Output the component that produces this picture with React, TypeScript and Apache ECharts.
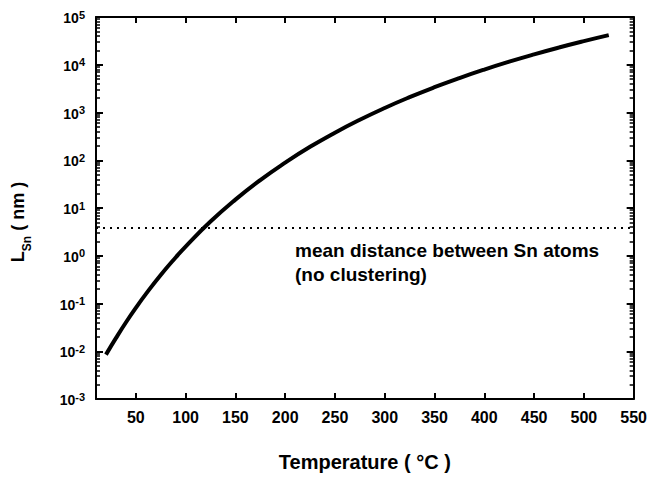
import React, { useEffect, useRef } from "react";
import * as echarts from "echarts";

// Curve: temperature (°C) vs L_Sn (nm)
const temperatureC = [20, 30, 40, 50, 60, 75, 90, 100, 125, 150, 175, 200, 225, 250, 275, 300, 325, 350, 375, 400, 425, 450, 475, 500, 525];
const lengthNm = [0.0085, 0.0188, 0.04, 0.081, 0.157, 0.395, 0.92, 1.56, 5.2, 15.0, 38.5, 89, 191, 378, 705, 1245, 2094, 3381, 5260, 7925, 11590, 16500, 22960, 31260, 41780];

// Horizontal reference: mean distance between Sn atoms
const meanDistanceNm = 3.9;

const xTickValues = [50, 100, 150, 200, 250, 300, 350, 400, 450, 500, 550];
const xTopTickValues = [50, 100, 150, 200, 250, 300, 350, 400, 450, 500];
const yDecades = [1e-3, 1e-2, 1e-1, 1e0, 1e1, 1e2, 1e3, 1e4, 1e5];
const minorMultipliers = [2, 3, 4, 5, 6, 7, 8, 9];
const yMinorValues = yDecades.slice(0, -1).flatMap((d) => minorMultipliers.map((m) => d * m));

const annotationLines = ["mean distance between Sn atoms", "(no clustering)"];

const FONT = "Liberation Sans, Arial, Helvetica, sans-serif";

export default function App() {
  const ref = useRef<HTMLDivElement>(null);

  useEffect(() => {
    const chart = echarts.init(ref.current!, null, { renderer: "svg" });
    const black = "#000";
    const axisLine = { show: true, lineStyle: { color: black, width: 2 } };

    const yLog = { type: "log" as const, logBase: 10, min: 1e-3, max: 1e5 };

    chart.setOption({
      animation: false,
      backgroundColor: "#fff",
      grid: { left: 96, right: 12, top: 17, bottom: 76, containLabel: false },
      xAxis: [
        {
          type: "value",
          position: "bottom",
          min: 10,
          max: 550,
          axisLine,
          axisTick: { show: true, inside: true, length: 6, lineStyle: { color: black, width: 2 }, customValues: xTickValues },
          axisLabel: { customValues: xTickValues, color: black, fontSize: 16, fontWeight: "bold", fontFamily: FONT, margin: 10 },
          splitLine: { show: false },
          name: "Temperature ( °C )",
          nameLocation: "middle",
          nameGap: 53,
          nameTextStyle: { color: black, fontSize: 20, fontWeight: "bold", fontFamily: FONT },
        },
        {
          type: "value",
          position: "top",
          min: 10,
          max: 550,
          axisLine,
          axisTick: { show: true, inside: true, length: 6, lineStyle: { color: black, width: 2 }, customValues: xTopTickValues },
          axisLabel: { show: false },
          splitLine: { show: false },
        },
      ],
      yAxis: [
        {
          ...yLog,
          position: "left",
          axisLine,
          axisTick: { show: true, inside: true, length: 7, lineStyle: { color: black, width: 2 }, customValues: yDecades },
          axisLabel: {
            customValues: yDecades,
            margin: 11,
            formatter: (v: number) => `{b|10}{s|${Math.round(Math.log10(v))}}`,
            rich: {
              b: { fontSize: 14, fontWeight: "bold", color: black, fontFamily: FONT, lineHeight: 16, verticalAlign: "bottom" },
              s: { fontSize: 11, fontWeight: "bold", color: black, fontFamily: FONT, lineHeight: 10, verticalAlign: "top" },
            },
          },
          splitLine: { show: false },
        },
        {
          ...yLog,
          position: "left",
          axisLine: { show: false },
          axisTick: { show: true, inside: true, length: 4, lineStyle: { color: black, width: 1.5 }, customValues: yMinorValues },
          axisLabel: { show: false },
          splitLine: { show: false },
        },
        {
          ...yLog,
          position: "right",
          axisLine,
          axisTick: { show: true, inside: true, length: 7, lineStyle: { color: black, width: 2 }, customValues: yDecades },
          axisLabel: { show: false },
          splitLine: { show: false },
        },
        {
          ...yLog,
          position: "right",
          axisLine: { show: false },
          axisTick: { show: true, inside: true, length: 4, lineStyle: { color: black, width: 1.5 }, customValues: yMinorValues },
          axisLabel: { show: false },
          splitLine: { show: false },
        },
      ],
      series: [
        {
          type: "line",
          xAxisIndex: 0,
          yAxisIndex: 0,
          data: temperatureC.map((t, i) => [t, lengthNm[i]]),
          smooth: true,
          showSymbol: false,
          lineStyle: { color: black, width: 4 },
          markLine: {
            silent: true,
            symbol: ["none", "none"],
            label: { show: false },
            lineStyle: { color: black, width: 2, type: [2, 5] },
            data: [{ yAxis: meanDistanceNm }],
          },
        },
      ],
      graphic: [
        {
          type: "text",
          left: 295,
          top: 238,
          style: {
            text: annotationLines.join("\n"),
            fill: black,
            font: `bold 19px ${FONT}`,
            lineHeight: 24,
          },
        },
        {
          type: "text",
          x: 21,
          y: 222,
          rotation: Math.PI / 2,
          style: {
            text: "{a|L}{sub|Sn}{a| ( nm )}",
            align: "center",
            verticalAlign: "middle",
            rich: {
              a: { fontSize: 18, fontWeight: "bold", fill: black, fontFamily: FONT, lineHeight: 24, verticalAlign: "top" },
              sub: { fontSize: 12, fontWeight: "bold", fill: black, fontFamily: FONT, lineHeight: 12, verticalAlign: "bottom" },
            },
          },
        },
      ],
    });

    return () => chart.dispose();
  }, []);

  return <div ref={ref} style={{ position: "fixed", left: 0, top: 0, width: 650, height: 477 }} />;
}
